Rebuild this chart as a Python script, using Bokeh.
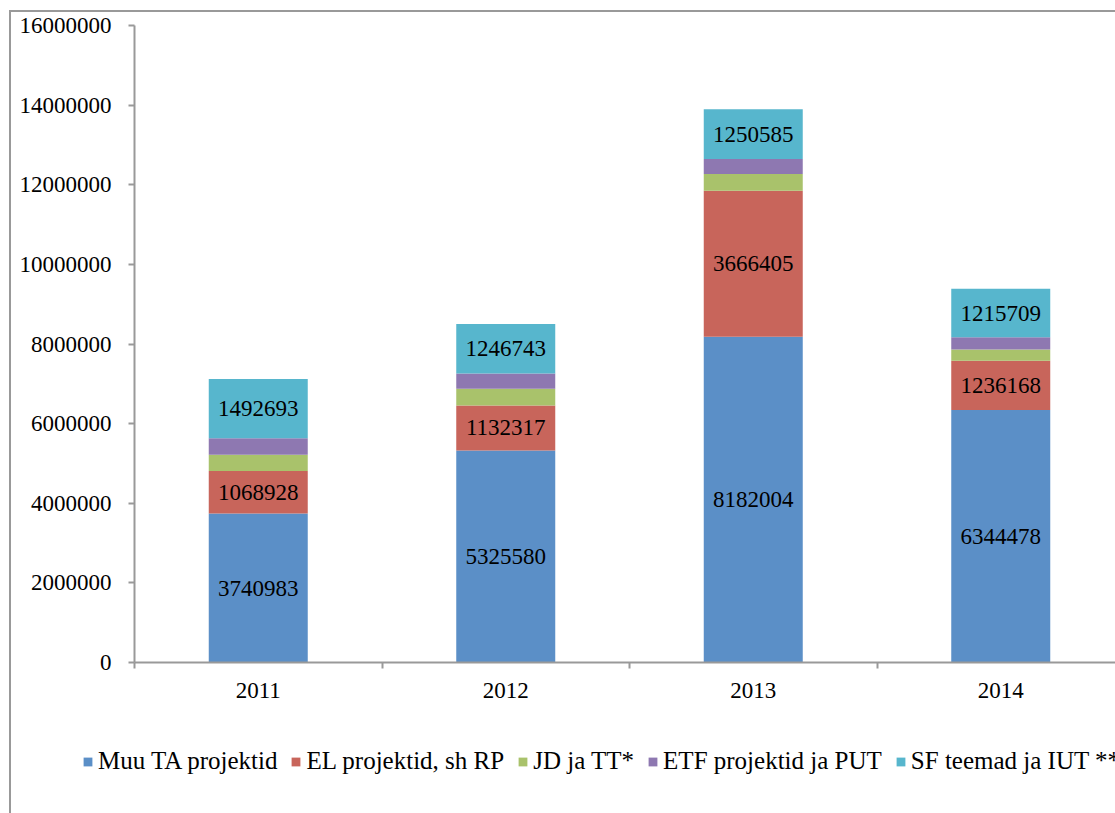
from bokeh.plotting import figure
from bokeh.layouts import column
from bokeh.models import (ColumnDataSource, Range1d, FixedTicker, BasicTickFormatter,
                          Legend, LegendItem)
from bokeh.core.properties import value
from bokeh.embed import file_html
from bokeh.resources import INLINE

years = ["2011", "2012", "2013", "2014"]
series_names = ["Muu TA projektid", "EL projektid, sh RP", "JD ja TT*",
                "ETF projektid ja PUT", "SF teemad ja IUT **"]
muu_ta = [3740983, 5325580, 8182004, 6344478]
el_proj = [1068928, 1132317, 3666405, 1236168]
jd_tt = [410000, 420000, 420000, 280000]
etf_put = [410000, 380000, 380000, 310000]
sf_iut = [1492693, 1246743, 1250585, 1215709]
labelled = [True, True, False, False, True]
colors = ["#5B8FC7", "#C8655B", "#A9C26B", "#8E78B1", "#57B6CD"]
y_ticks = [0, 2000000, 4000000, 6000000, 8000000, 10000000, 12000000, 14000000, 16000000]

FONT = "Liberation Serif"
NUM_SIZE = "23px"
W, H = 1115, 813
# pixel geometry of the plot area inside the canvas
axis_x_px, top_px, zero_px = 134, 25, 662
cat_px = 247.5
n = len(years)
y_max = y_ticks[-1]
ppu = (zero_px - top_px) / y_max
x_start = -axis_x_px / cat_px
x_end = (W - axis_x_px) / cat_px
y_start = -(H - zero_px) / ppu
y_end = y_max + top_px / ppu

xs = [i + 0.5 for i in range(n)]
data = {"x": xs}
keys = ["s0", "s1", "s2", "s3", "s4"]
all_series = [muu_ta, el_proj, jd_tt, etf_put, sf_iut]
for k, s in zip(keys, all_series):
    data[k] = s
src = ColumnDataSource(data)

p = figure(width=W, height=H, output_backend="svg", toolbar_location=None,
           x_range=Range1d(x_start, x_end), y_range=Range1d(y_start, y_end),
           min_border=0)
p.outline_line_color = None
p.grid.visible = False
p.background_fill_color = None
p.border_fill_color = None

renderers = p.vbar_stack(keys, x="x", width=0.4, source=src, color=colors, line_color=None)

# value labels
bottoms = [0] * n
lx, ly, lt = [], [], []
for s, lab in zip(all_series, labelled):
    for i in range(n):
        if lab:
            lx.append(xs[i])
            ly.append(bottoms[i] + s[i] / 2)
            lt.append(str(s[i]))
        bottoms[i] += s[i]
lsrc = ColumnDataSource(dict(x=lx, y=ly, t=lt))
p.text(x="x", y="y", text="t", source=lsrc, text_align="center", text_baseline="middle",
       text_font=value(FONT), text_font_size=NUM_SIZE, text_color="black")

# axes, drawn at fixed data locations
ya = p.yaxis[0]
ya.fixed_location = 0
ya.bounds = (0, y_max)
ya.ticker = FixedTicker(ticks=y_ticks, minor_ticks=[])
ya.formatter = BasicTickFormatter(use_scientific=False)
ya.axis_line_color = "#999999"
ya.axis_line_width = 2
ya.major_tick_line_color = "#999999"
ya.major_tick_line_width = 2
ya.major_tick_in = 0
ya.major_tick_out = 6
ya.minor_tick_line_color = None
ya.major_label_standoff = 17
ya.major_label_text_font = FONT
ya.major_label_text_font_size = NUM_SIZE
ya.major_label_text_color = "black"

xa = p.xaxis[0]
xa.fixed_location = 0
xa.bounds = (0, x_end)
xa.ticker = FixedTicker(ticks=xs, minor_ticks=[float(i) for i in range(n + 1)])
xa.major_label_overrides = {x: y for x, y in zip(xs, years)}
xa.axis_line_color = "#999999"
xa.axis_line_width = 2
xa.major_tick_line_color = None
xa.major_tick_in = 0
xa.major_tick_out = 0
xa.minor_tick_line_color = "#999999"
xa.minor_tick_line_width = 2
xa.minor_tick_in = 0
xa.minor_tick_out = 6
xa.major_label_standoff = 14
xa.major_label_text_font = FONT
xa.major_label_text_font_size = NUM_SIZE
xa.major_label_text_color = "black"

items = [LegendItem(label=nm, renderers=[r]) for nm, r in zip(series_names, renderers)]
legend = Legend(items=items, orientation="horizontal", location=(82, 38),
                glyph_width=11, glyph_height=11, label_standoff=5, spacing=13,
                label_text_font=FONT, label_text_font_size="25px", label_text_color="black",
                border_line_color=None, background_fill_alpha=0, padding=0, margin=0)
p.add_layout(legend, "center")

layout = column(p, spacing=0, styles={
    "background": "linear-gradient(#999999,#999999) 9px 10px / 2px 100% no-repeat, "
                  "linear-gradient(#999999,#999999) 9px 10px / 100% 2px no-repeat, #ffffff"})

open("out.html", "w").write(file_html(layout, INLINE))
